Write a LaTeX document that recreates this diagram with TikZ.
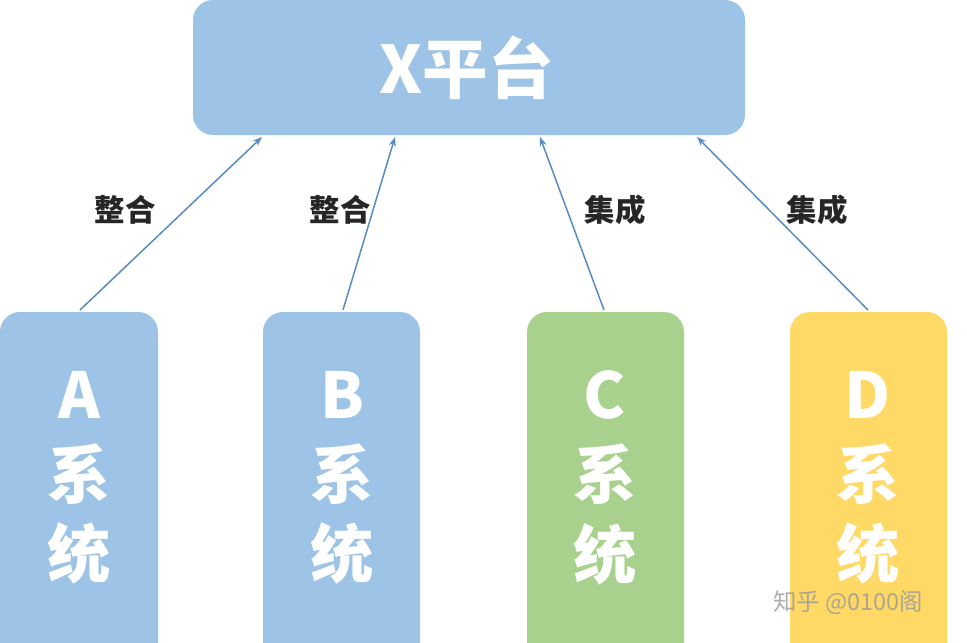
\documentclass[tikz,border=0pt]{standalone}
\usepackage{fontspec}
\usetikzlibrary{arrows.meta}
\setmainfont{Noto Sans CJK SC}
\definecolor{lblue}{HTML}{9DC3E6}
\definecolor{lgreen}{HTML}{A9D18E}
\definecolor{lyellow}{HTML}{FFD966}
\definecolor{arr}{HTML}{5B8EC0}
\begin{document}
\begin{tikzpicture}[x=0.03cm,y=-0.03cm,
  systext/.style={text=white,font=\fontsize{54}{68}\selectfont\bfseries,align=center},
  conn/.style={draw=arr,line width=1.3pt,-{Stealth[length=8pt,width=6pt]}},
  lbl/.style={font=\fontsize{26}{30}\selectfont\bfseries,text=black!85}]
\clip (0,0) rectangle (967,643);
\fill[white] (0,0) rectangle (967,643);
\fill[lblue,rounded corners=0.6cm] (193,0) rectangle (745,135);
\node[text=white,font=\fontsize{56}{66}\selectfont\bfseries] (top) at (467,68) {X平台};
\coordinate (topA) at (262,137);
\coordinate (topB) at (395,137);
\coordinate (topC) at (540,137);
\coordinate (topD) at (697,137);
\fill[lblue,rounded corners=0.6cm] (0,312) rectangle (158,680);
\fill[lblue,rounded corners=0.6cm] (263,312) rectangle (420,680);
\fill[lgreen,rounded corners=0.6cm] (527,312) rectangle (684,680);
\fill[lyellow,rounded corners=0.6cm] (790,312) rectangle (947,680);
\node[systext] (a) at (79,478) {A\\系\\统};
\node[systext] (b) at (342,478) {B\\系\\统};
\node[systext] (c) at (605,478) {C\\系\\统};
\node[systext] (d) at (868,478) {D\\系\\统};
\coordinate (botA) at (80,310);
\coordinate (botB) at (343,310);
\coordinate (botC) at (604,310);
\coordinate (botD) at (868,310);
\draw[conn] (botA) -- (topA);
\draw[conn] (botB) -- (topB);
\draw[conn] (botC) -- (topC);
\draw[conn] (botD) -- (topD);
\node[lbl] (la) at (125,210) {整合};
\node[lbl] (lb) at (340,210) {整合};
\node[lbl] (lc) at (615,210) {集成};
\node[lbl] (ld) at (817,210) {集成};
\node[text=black!40,opacity=0.8,font=\fontsize{20}{24}\selectfont] (wm) at (848,603) {知乎 @0100阁};
\end{tikzpicture}
\end{document}
